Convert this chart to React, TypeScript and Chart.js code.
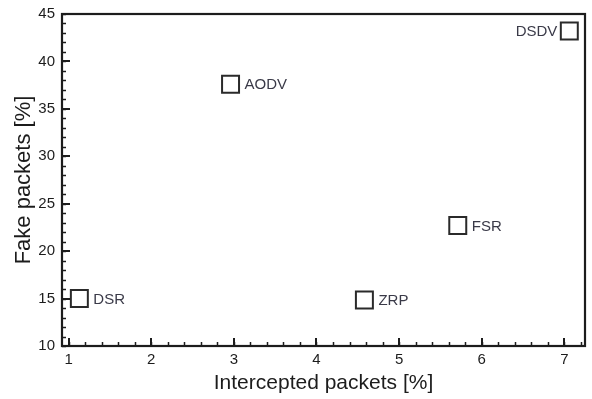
import React, { useEffect, useRef } from 'react';
import { Chart, registerables } from 'chart.js';

Chart.register(...registerables);

const protocols = ['DSR', 'AODV', 'ZRP', 'FSR', 'DSDV'];
const interceptedPct = [1.13, 2.96, 4.58, 5.71, 7.06];
const fakePct = [15.0, 37.6, 14.85, 22.7, 43.2];
const labelSide = ['right', 'right', 'right', 'right', 'left'];
const xTickValues = [1, 2, 3, 4, 5, 6, 7];
const yTickValues = [10, 15, 20, 25, 30, 35, 40, 45];
const xMinorStep = 0.2;
const yMinorStep = 1;
const xMin = 0.92;
const xMax = 7.25;
const yMin = 10;
const yMax = 45;

const FONT = '"Liberation Sans", Arial, Helvetica, sans-serif';
const INK = '#1c1c1c';

const framePlugin = {
  id: 'frameAndLabels',
  afterDatasetsDraw(chart: any) {
    const { ctx, chartArea } = chart;
    const xs = chart.scales.x;
    const ys = chart.scales.y;
    const { left, right, top, bottom } = chartArea;
    ctx.save();
    ctx.strokeStyle = INK;
    ctx.lineWidth = 1.5;
    ctx.beginPath();
    for (let v = 1; v <= xMax + 1e-9; v += xMinorStep) {
      const px = Math.round(xs.getPixelForValue(v)) + 0.5;
      ctx.moveTo(px, bottom);
      ctx.lineTo(px, bottom - 4);
    }
    for (let v = yMin; v <= yMax + 1e-9; v += yMinorStep) {
      const py = Math.round(ys.getPixelForValue(v)) + 0.5;
      ctx.moveTo(left, py);
      ctx.lineTo(left + 4, py);
    }
    ctx.stroke();
    ctx.lineWidth = 2;
    ctx.beginPath();
    xTickValues.forEach((v) => {
      const px = Math.round(xs.getPixelForValue(v));
      ctx.moveTo(px, bottom);
      ctx.lineTo(px, bottom - 8);
    });
    yTickValues.forEach((v) => {
      const py = Math.round(ys.getPixelForValue(v));
      ctx.moveTo(left, py);
      ctx.lineTo(left + 8, py);
    });
    ctx.stroke();
    ctx.lineWidth = 2.2;
    ctx.strokeRect(left, top, right - left, bottom - top);

    const meta = chart.getDatasetMeta(0);
    ctx.font = '15px ' + FONT;
    ctx.fillStyle = '#3a3a48';
    ctx.textBaseline = 'middle';
    meta.data.forEach((el: any, i: number) => {
      const side = labelSide[i];
      if (side === 'left') {
        ctx.textAlign = 'right';
        ctx.fillText(protocols[i], el.x - 12, el.y + 1);
      } else {
        ctx.textAlign = 'left';
        ctx.fillText(protocols[i], el.x + 14, el.y + 1);
      }
    });
    ctx.restore();
  },
};

export default function App() {
  const ref = useRef<HTMLCanvasElement | null>(null);
  useEffect(() => {
    if (!ref.current) return;
    const chart = new Chart(ref.current, {
      type: 'scatter',
      data: {
        datasets: [
          {
            label: 'Protocols',
            data: interceptedPct.map((x, i) => ({ x, y: fakePct[i] })),
            pointStyle: 'rect',
            pointRadius: 12,
            pointHoverRadius: 12,
            borderWidth: 2,
            borderColor: '#2a2a2a',
            backgroundColor: 'rgba(255,255,255,0)',
          },
        ],
      },
      options: {
        animation: false,
        responsive: true,
        maintainAspectRatio: false,
        layout: { padding: { top: 14, right: 0, left: 0, bottom: 0 } },
        plugins: { legend: { display: false }, tooltip: { enabled: false } },
        scales: {
          x: {
            type: 'linear',
            min: xMin,
            max: xMax,
            grid: { display: false, drawTicks: false },
            border: { display: false },
            afterBuildTicks: (s: any) => {
              s.ticks = xTickValues.map((value) => ({ value }));
            },
            afterFit: (s: any) => {
              s.height = 53;
              s.paddingLeft = 0;
              s.paddingRight = 0;
              s.paddingTop = 0;
              s.paddingBottom = 0;
            },
            ticks: {
              padding: 5,
              color: INK,
              font: { family: FONT, size: 15 },
              maxRotation: 0,
            },
            title: {
              display: true,
              text: 'Intercepted packets [%]',
              color: INK,
              font: { family: FONT, size: 21 },
              padding: { top: 0, bottom: 3 },
            },
          },
          y: {
            type: 'linear',
            min: yMin,
            max: yMax,
            grid: { display: false, drawTicks: false },
            border: { display: false },
            afterBuildTicks: (s: any) => {
              s.ticks = yTickValues.map((value) => ({ value }));
            },
            afterFit: (s: any) => {
              s.width = 62;
              s.paddingLeft = 0;
              s.paddingRight = 0;
              s.paddingTop = 0;
              s.paddingBottom = 0;
            },
            ticks: {
              padding: 7,
              color: INK,
              font: { family: FONT, size: 15 },
            },
            title: {
              display: true,
              text: 'Fake packets [%]',
              color: INK,
              font: { family: FONT, size: 22 },
              padding: { top: 11, bottom: 0 },
            },
          },
        },
      },
      plugins: [framePlugin],
    });
    return () => chart.destroy();
  }, []);
  return (
    <div style={{ position: 'absolute', left: 0, top: 0, width: 592, height: 399, overflow: 'hidden', background: '#fff' }}>
      <div style={{ position: 'relative', width: 599, height: 399 }}>
        <canvas ref={ref} />
      </div>
    </div>
  );
}
